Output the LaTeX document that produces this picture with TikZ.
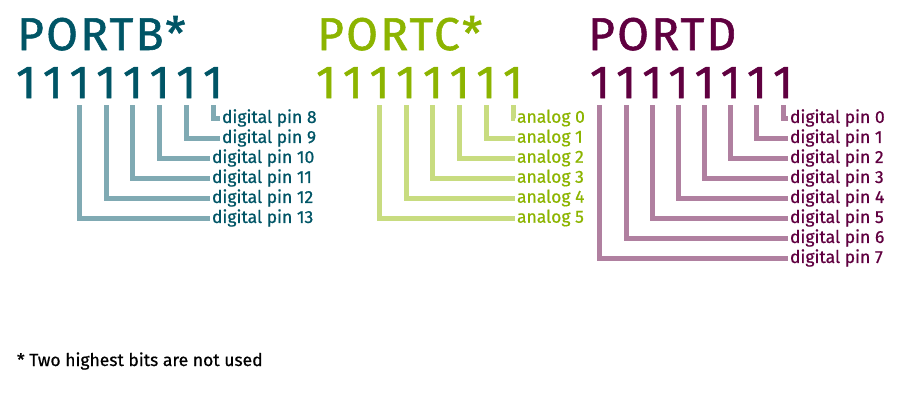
\documentclass[tikz,border=0pt]{standalone}
\usepackage{fontspec}
\setmainfont{Fira Sans}
\newfontfamily\headfont{Fira Sans}[FakeBold=1.2, LetterSpace=5]
\newfontfamily\pinfont{Fira Sans}[FakeBold=0.7]
\usepackage{tikz}
\usetikzlibrary{positioning}
\definecolor{portb}{HTML}{005566}
\definecolor{portblight}{HTML}{80AAB3}
\definecolor{portc}{HTML}{8CB400}
\definecolor{portclight}{HTML}{C8DC80}
\definecolor{portd}{HTML}{600040}
\definecolor{portdlight}{HTML}{B080A0}
\tikzstyle{porttitle} = [font=\headfont\fontsize{46}{46}\selectfont, anchor=base west, inner sep=0pt]
\tikzstyle{bit} = [font=\headfont\fontsize{46}{46}\selectfont, anchor=base, inner sep=0pt]
\tikzstyle{pin} = [font=\pinfont\fontsize{17.5}{17.5}\selectfont, anchor=west, inner sep=0pt, outer xsep=2pt]
\tikzstyle{wire} = [line width=5pt]

\begin{document}
\begin{tikzpicture}[x=1pt,y=-1pt]
    \useasboundingbox (0,0) rectangle (900,400);
    % PORTB
    \node[porttitle, text=portb] (portB) at (17,50) {PORTB*};
    \foreach \i in {0,...,7}
        \node[bit, text=portb] (bB\i) at ({213-26.7*\i},98) {1};
    \foreach \i/\n/\lx in {0/8/222,1/9/222,2/10/212,3/11/212,4/12/212,5/13/212} {
        \node[pin, text=portb] (pB\i) at (\lx-2,{118+20*\i}) {digital pin \n};
        \draw[wire, portblight] ([yshift=-7pt]bB\i.south) |- (pB\i.west);
    }
    % PORTC
    \node[porttitle, text=portc] (portC) at (317,50) {PORTC*};
    \foreach \i in {0,...,7}
        \node[bit, text=portc] (bC\i) at ({513-26.7*\i},98) {1};
    \foreach \i in {0,...,5} {
        \node[pin, text=portc] (pC\i) at (515,{118+20*\i}) {analog \i};
        \draw[wire, portclight] ([yshift=-7pt]bC\i.south) |- (pC\i.west);
    }
    % PORTD
    \node[porttitle, text=portd] (portD) at (588,50) {PORTD};
    \foreach \i in {0,...,7}
        \node[bit, text=portd] (bD\i) at ({783-26.15*\i},98) {1};
    \foreach \i in {0,...,7} {
        \node[pin, text=portd] (pD\i) at (788,{118+20*\i}) {digital pin \i};
        \draw[wire, portdlight] ([yshift=-7pt]bD\i.south) |- (pD\i.west);
    }
    % footnote
    \node[pin, anchor=base west, outer xsep=0pt] (note) at (17,366) {* Two highest bits are not used};
\end{tikzpicture}
\end{document}
